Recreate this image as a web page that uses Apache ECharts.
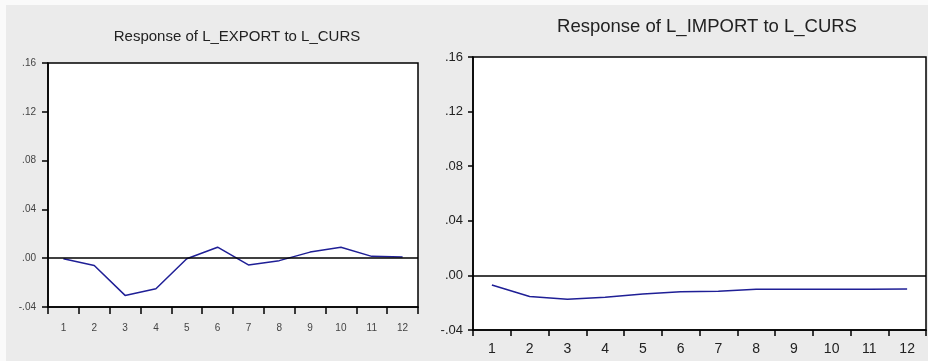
<!DOCTYPE html>
<html>
<head>
<meta charset="utf-8">
<script src="https://cdn.jsdelivr.net/npm/echarts@6/dist/echarts.min.js"></script>
<style>
html,body{margin:0;padding:0;background:#ebebeb;}
#chart{width:928px;height:361px;}
</style>
</head>
<body>
<div id="chart"></div>
<script>
// ---- data ----
var periods = ['1','2','3','4','5','6','7','8','9','10','11','12'];
var exportResponse = [-0.0005, -0.006, -0.0305, -0.025, -0.0005, 0.009, -0.0055, -0.002, 0.005, 0.009, 0.0015, 0.001];
var importResponse = [-0.0071, -0.0155, -0.0175, -0.016, -0.0137, -0.012, -0.0117, -0.0102, -0.0102, -0.0101, -0.0101, -0.0100];
var yTickValues = [-0.04, 0.00, 0.04, 0.08, 0.12, 0.16];
var yTickLabels = ['-.04', '.00', '.04', '.08', '.12', '.16'];
var titles = ['Response of L_EXPORT to L_CURS', 'Response of L_IMPORT to L_CURS'];

function yLabel(v){
  for (var i = 0; i < yTickValues.length; i++) {
    if (Math.abs(yTickValues[i] - v) < 1e-9) return yTickLabels[i];
  }
  return '';
}

var chart = echarts.init(document.getElementById('chart'));
var font = 'Liberation Sans, Arial, sans-serif';

function zeroLine(){
  return {
    silent: true,
    symbol: 'none',
    label: {show: false},
    lineStyle: {color: '#000', width: 1.5, type: 'solid'},
    data: [{yAxis: 0}]
  };
}

chart.setOption({
  backgroundColor: '#ebebeb',
  animation: false,
  graphic: [
    {type: 'rect', shape: {x: 0, y: 0, width: 928, height: 5}, style: {fill: '#fafafa'}, silent: true},
    {type: 'rect', shape: {x: 0, y: 0, width: 6, height: 361}, style: {fill: '#fafafa'}, silent: true}
  ],
  title: [
    {text: titles[0], left: 232, top: 24, textAlign: 'center',
     textStyle: {fontFamily: font, fontSize: 15, fontWeight: 'normal', color: '#222'}},
    {text: titles[1], left: 702, top: 12, textAlign: 'center',
     textStyle: {fontFamily: font, fontSize: 18.5, fontWeight: 'normal', color: '#222'}}
  ],
  grid: [
    {left: 48, top: 63, width: 370, height: 244, show: true, backgroundColor: '#fff', borderColor: '#000', borderWidth: 1.5},
    {left: 473, top: 57, width: 453, height: 273, show: true, backgroundColor: '#fff', borderColor: '#000', borderWidth: 1.5}
  ],
  xAxis: [
    {type: 'category', gridIndex: 0, data: periods, boundaryGap: true,
     axisLine: {onZero: false, lineStyle: {color: '#000', width: 1.5}},
     axisTick: {show: true, interval: 0, length: 7, lineStyle: {color: '#000', width: 1.5}},
     axisLabel: {interval: 0, margin: 16, fontFamily: font, fontSize: 10, color: '#444'},
     splitLine: {show: false}},
    {type: 'category', gridIndex: 1, data: periods, boundaryGap: true,
     axisLine: {onZero: false, lineStyle: {color: '#000', width: 1.5}},
     axisTick: {show: true, interval: 0, length: 6, lineStyle: {color: '#000', width: 1.5}},
     axisLabel: {interval: 0, margin: 12, fontFamily: font, fontSize: 14, color: '#222'},
     splitLine: {show: false}}
  ],
  yAxis: [
    {type: 'value', gridIndex: 0, min: -0.04, max: 0.16, interval: 0.04,
     axisLine: {show: true, onZero: false, lineStyle: {color: '#000', width: 1.5}},
     axisTick: {show: true, length: 6, lineStyle: {color: '#000', width: 1.5}},
     axisLabel: {margin: 12, fontFamily: font, fontSize: 10, color: '#444', formatter: yLabel},
     splitLine: {show: false}},
    {type: 'value', gridIndex: 1, min: -0.04, max: 0.16, interval: 0.04,
     axisLine: {show: true, onZero: false, lineStyle: {color: '#000', width: 1.5}},
     axisTick: {show: true, length: 5, lineStyle: {color: '#000', width: 1.5}},
     axisLabel: {margin: 10, fontFamily: font, fontSize: 13, color: '#222', formatter: yLabel},
     splitLine: {show: false}}
  ],
  series: [
    {type: 'line', xAxisIndex: 0, yAxisIndex: 0, data: exportResponse, symbol: 'none',
     lineStyle: {color: '#1f1f96', width: 1.5}, markLine: zeroLine(), z: 3},
    {type: 'line', xAxisIndex: 1, yAxisIndex: 1, data: importResponse, symbol: 'none',
     lineStyle: {color: '#1f1f96', width: 1.5}, markLine: zeroLine(), z: 3}
  ]
});
</script>
</body>
</html>
